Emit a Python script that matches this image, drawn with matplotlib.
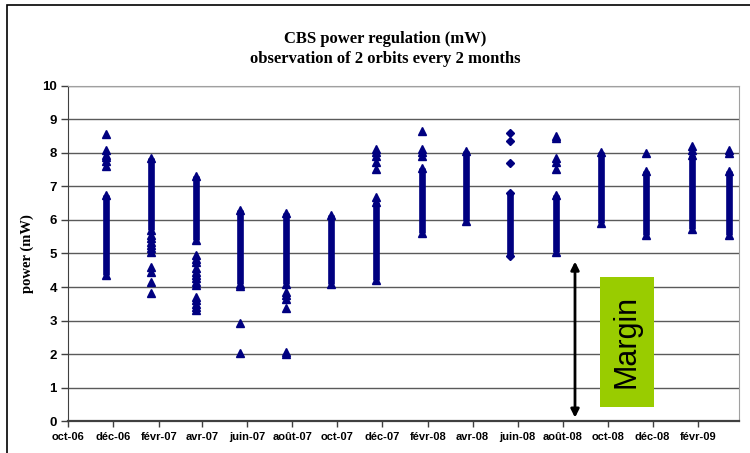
import numpy as np
import pandas as pd
import matplotlib
matplotlib.use('Agg')
import matplotlib.pyplot as plt
import matplotlib.dates as mdates
from matplotlib.patches import Rectangle

# one observation (2 orbits) every 2 months
obs_dates = ['2006-11-22', '2007-01-22', '2007-03-23', '2007-05-22', '2007-07-23',
             '2007-09-22', '2007-11-22', '2008-01-23', '2008-03-23', '2008-05-22',
             '2008-07-23', '2008-09-22', '2008-11-22', '2009-01-23', '2009-03-14']

# dense band of readings (low / high) for each observation, mW
band_low = [4.35, 5.70, 5.40, 4.10, 4.10, 4.10, 4.20, 5.60, 5.97, 4.93, 5.05, 5.90, 5.55, 5.72, 5.55]
band_high = [6.75, 7.85, 7.30, 6.30, 6.20, 6.15, 6.55, 7.55, 8.05, 6.80, 6.75, 8.02, 7.45, 7.95, 7.45]

# isolated readings outside the band
outliers = [
    [8.58, 8.09, 7.95, 7.87, 7.77, 7.61],
    [5.55, 5.45, 5.35, 5.25, 5.15, 5.05, 4.60, 4.46, 4.16, 3.83],
    [4.95, 4.85, 4.75, 4.56, 4.46, 4.36, 4.26, 4.16, 4.06, 3.70, 3.60, 3.50, 3.40, 3.30],
    [4.02, 2.93, 2.03],
    [3.85, 3.75, 3.65, 3.38, 2.07, 2.00],
    [],
    [8.12, 8.02, 7.90, 7.74, 7.51, 6.70],
    [8.66, 8.12, 8.02, 7.92],
    [],
    [8.60, 8.37, 7.71],
    [8.52, 8.45, 7.84, 7.74, 7.51],
    [],
    [7.99],
    [8.20, 8.10],
    [8.10, 8.00],
]
markers = ['^'] * 9 + ['D'] + ['^'] * 5

tick_dates = ['2006-10-01', '2006-12-01', '2007-02-01', '2007-04-01', '2007-06-01',
              '2007-08-01', '2007-10-01', '2007-12-01', '2008-02-01', '2008-04-01',
              '2008-06-01', '2008-08-01', '2008-10-01', '2008-12-01', '2009-02-01']
tick_labels = ['oct-06', 'déc-06', 'févr-07', 'avr-07', 'juin-07', 'août-07', 'oct-07',
               'déc-07', 'févr-08', 'avr-08', 'juin-08', 'août-08', 'oct-08', 'déc-08', 'févr-09']

navy = '#000080'

fig = plt.figure(figsize=(7.5, 4.53), dpi=100)
ax = fig.add_axes([0.0907, 0.0706, 0.8946, 0.7396])

xs = pd.to_datetime(obs_dates)
for x, lo, hi, extra, m in zip(xs, band_low, band_high, outliers, markers):
    ax.vlines(x, lo, hi, color=navy, lw=4.8, zorder=3)
    ends = [lo, hi] + extra
    ax.plot([x] * len(ends), ends, ls='none', marker=m, ms=5.2 if m == '^' else 3.7,
            color=navy, mec=navy, zorder=4)

ax.set_xlim(pd.Timestamp('2006-10-01'), pd.Timestamp('2009-03-28'))
ax.set_ylim(0, 10)
ax.set_yticks(range(0, 11))
ax.set_xticks(pd.to_datetime(tick_dates))
ax.set_xticklabels(tick_labels, fontsize=8, fontweight='bold', family='Liberation Sans')
for lab in ax.get_yticklabels():
    lab.set_fontsize(9.5)
    lab.set_fontweight('bold')
    lab.set_family('Liberation Sans')

ax.grid(axis='y', color='#5a5a5a', lw=1)
ax.set_axisbelow(True)
ax.tick_params(axis='y', length=5, width=1, color='#404040', pad=3)
ax.tick_params(axis='x', length=4, width=1, color='#404040', pad=4)
ax.spines['left'].set_color('#404040')
ax.spines['bottom'].set_color('#404040')
ax.spines['bottom'].set_linewidth(1.6)
ax.spines['top'].set_color('#a0a0a0')
ax.spines['right'].set_color('#a0a0a0')

ax.set_ylabel('power (mW)', family='Liberation Serif', fontweight='bold', fontsize=10.5, labelpad=6)

fig.text(0.513, 0.892, 'CBS power regulation (mW)\nobservation of 2 orbits every 2 months',
         ha='center', va='center', family='Liberation Serif', fontweight='bold',
         fontsize=12, linespacing=1.35)

# margin annotation
ax.annotate('', xy=(0.7556, 0.01), xytext=(0.7556, 0.476), xycoords='axes fraction',
            arrowprops=dict(arrowstyle='<|-|>', color='black', lw=2, mutation_scale=12,
                            shrinkA=0, shrinkB=0))
ax.add_patch(Rectangle((0.793, 0.043), 0.08, 0.388, transform=ax.transAxes,
                       facecolor='#99cc00', edgecolor='none', zorder=5))
ax.text(0.833, 0.237, 'Margin', transform=ax.transAxes, rotation=90, ha='center', va='center',
        family='Liberation Sans', fontsize=22, zorder=6)

# chart area frame
fig.patches.append(Rectangle((0.009, -0.1), 1.2, 1.088, transform=fig.transFigure,
                             fill=False, edgecolor='black', lw=1.2))

fig.savefig('out.png', dpi=100)
